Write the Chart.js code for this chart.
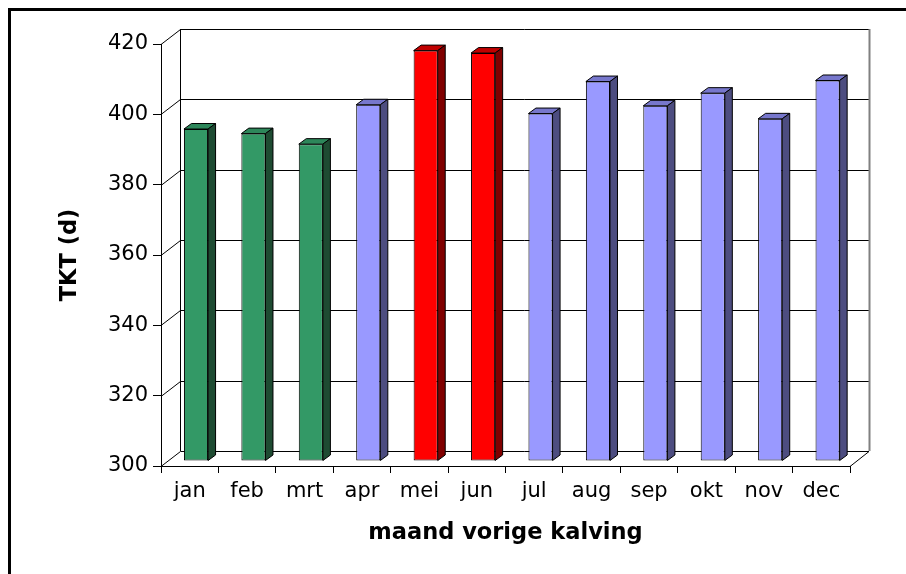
<!DOCTYPE html>
<html>
<head>
<meta charset="utf-8">
<script src="https://cdn.jsdelivr.net/npm/chart.js@4/dist/chart.umd.min.js"></script>
<style>
html, body { margin: 0; padding: 0; background: #fff; }
#wrap { width: 906px; height: 574px; }
</style>
</head>
<body>
<div id="wrap"><canvas id="myChart" width="906" height="574"></canvas></div>
<script>
const months = ['jan', 'feb', 'mrt', 'apr', 'mei', 'jun', 'jul', 'aug', 'sep', 'okt', 'nov', 'dec'];
const tkt = [394.4, 393.1, 390.1, 401.3, 416.7, 416.0, 398.8, 407.9, 401.0, 404.6, 397.3, 408.2];
const yTicks = [300, 320, 340, 360, 380, 400, 420];

// front / top / side colour per bar
const palette = {
	green: ['#339966', '#2d875a', '#1e4b32'],
	blue: ['#9999ff', '#7777cc', '#4d4d80'],
	red: ['#ff0000', '#c00000', '#800000']
};
const barColors = ['green', 'green', 'green', 'blue', 'red', 'red', 'blue', 'blue', 'blue', 'blue', 'blue', 'blue'];

const wallDepth = { x: 19, y: -15 };
const barShift = { x: 6.3, y: -5 };
const barDepth = { x: 7.5, y: -5.5 };

const walls = {
	id: 'walls',
	beforeDraw(chart) {
		const { ctx, chartArea: a, scales: { y } } = chart;
		ctx.save();
		// frame (top and left only)
		ctx.fillStyle = '#000';
		ctx.fillRect(8, 8, chart.width - 8, 3);
		ctx.fillRect(8, 8, 3, chart.height - 8);

		const bl = a.left + wallDepth.x;
		const br = a.right + wallDepth.x;
		const bt = Math.round(y.getPixelForValue(yTicks[yTicks.length - 1])) + wallDepth.y;
		const bb = Math.round(y.getPixelForValue(yTicks[0])) + wallDepth.y;

		ctx.lineWidth = 1;
		ctx.strokeStyle = '#000';
		ctx.beginPath();
		yTicks.forEach(v => {
			const py = Math.round(y.getPixelForValue(v)) + 0.5;
			ctx.moveTo(a.left, py);
			ctx.lineTo(bl + 0.5, py + wallDepth.y);
			ctx.lineTo(br, py + wallDepth.y);
		});
		ctx.moveTo(bl + 0.5, bt);
		ctx.lineTo(bl + 0.5, bb);
		// right end of floor
		ctx.moveTo(a.right, Math.round(a.bottom) + 0.5);
		ctx.lineTo(br, bb + 0.5);
		ctx.stroke();

		ctx.strokeStyle = '#808080';
		ctx.lineWidth = 2;
		ctx.beginPath();
		ctx.moveTo(br + 0.5, bt);
		ctx.lineTo(br + 0.5, bb);
		ctx.stroke();
		ctx.restore();
	},
	beforeDatasetsDraw(chart) {
		chart.ctx.save();
		chart.ctx.translate(barShift.x, barShift.y);
	},
	afterDatasetsDraw(chart) {
		const ctx = chart.ctx;
		const meta = chart.getDatasetMeta(0);
		ctx.lineWidth = 1;
		ctx.strokeStyle = '#000';
		meta.data.forEach((bar, i) => {
			const c = palette[barColors[i]];
			const l = bar.x - bar.width / 2;
			const r = bar.x + bar.width / 2;
			const t = bar.y;
			const b = bar.base;
			// top face
			ctx.beginPath();
			ctx.moveTo(l, t);
			ctx.lineTo(l + barDepth.x, t + barDepth.y);
			ctx.lineTo(r + barDepth.x, t + barDepth.y);
			ctx.lineTo(r, t);
			ctx.closePath();
			ctx.fillStyle = c[1];
			ctx.fill();
			ctx.stroke();
			// side face
			ctx.beginPath();
			ctx.moveTo(r, t);
			ctx.lineTo(r + barDepth.x, t + barDepth.y);
			ctx.lineTo(r + barDepth.x, b + barDepth.y);
			ctx.lineTo(r, b);
			ctx.closePath();
			ctx.fillStyle = c[2];
			ctx.fill();
			ctx.stroke();
		});
		ctx.restore();
	}
};

const fontFamily = "'DejaVu Sans', sans-serif";

new Chart(document.getElementById('myChart').getContext('2d'), {
	type: 'bar',
	data: {
		labels: months,
		datasets: [{
			data: tkt,
			base: yTicks[0],
			backgroundColor: barColors.map(k => palette[k][0]),
			borderColor: '#000',
			borderWidth: 1,
			borderSkipped: false,
			categoryPercentage: 1,
			barPercentage: 0.42,
			clip: false
		}]
	},
	options: {
		responsive: false,
		animation: false,
		layout: { padding: { left: 10, right: 56, top: 44, bottom: 10 } },
		plugins: {
			legend: { display: false },
			tooltip: { enabled: false }
		},
		scales: {
			x: {
				afterFit: scale => { scale.height = 98; },
				grid: { drawOnChartArea: false, color: '#000', tickLength: 7, offset: true },
				border: { color: '#000', width: 1 },
				ticks: { color: '#000', font: { family: fontFamily, size: 21 }, padding: 6 },
				title: {
					display: true,
					text: 'maand vorige kalving',
					color: '#000',
					font: { family: fontFamily, size: 22.5, weight: 'bold' },
					padding: { top: 0, bottom: 17 }
				}
			},
			y: {
				min: 300,
				max: 420,
				afterFit: scale => { scale.width = 151; },
				grid: { drawOnChartArea: false, color: '#000', tickLength: 8 },
				border: { color: '#000', width: 1 },
				ticks: { stepSize: 20, color: '#000', font: { family: fontFamily, size: 21 }, padding: 5 },
				title: {
					display: true,
					text: 'TKT (d)',
					color: '#000',
					font: { family: fontFamily, size: 22.5, weight: 'bold' },
					padding: { top: 47, bottom: 0 }
				}
			}
		}
	},
	plugins: [walls]
});
</script>
</body>
</html>
